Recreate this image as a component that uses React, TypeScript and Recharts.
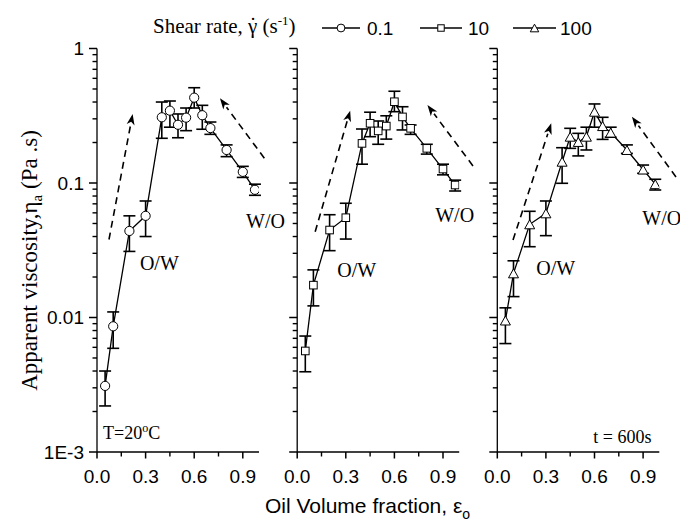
import React from 'react';
import { ComposedChart, Line, XAxis, YAxis, ErrorBar, ReferenceLine, ReferenceDot } from 'recharts';

// ---------- data ----------
const oilFraction = [0.05, 0.1, 0.2, 0.3, 0.4, 0.45, 0.5, 0.55, 0.6, 0.65, 0.7, 0.8, 0.9, 0.975];

const visc01 = [0.0031, 0.0086, 0.044, 0.057, 0.308, 0.345, 0.271, 0.306, 0.431, 0.319, 0.256, 0.176, 0.121, 0.089];
const visc01Low = [0.0022, 0.0059, 0.031, 0.04, 0.215, 0.26, 0.217, 0.245, 0.361, 0.251, 0.23, 0.157, 0.11, 0.081];
const visc01High = [0.004, 0.011, 0.057, 0.0735, 0.4, 0.407, 0.326, 0.361, 0.511, 0.378, 0.284, 0.192, 0.133, 0.098];

const visc10 = [0.00564, 0.0174, 0.0447, 0.0552, 0.197, 0.278, 0.244, 0.265, 0.402, 0.31, 0.255, 0.181, 0.127, 0.0966];
const visc10Low = [0.00395, 0.0122, 0.0314, 0.0383, 0.138, 0.221, 0.194, 0.212, 0.339, 0.248, 0.23, 0.164, 0.115, 0.0872];
const visc10High = [0.00728, 0.0226, 0.0581, 0.0707, 0.252, 0.336, 0.289, 0.316, 0.481, 0.369, 0.27, 0.194, 0.138, 0.105];

const visc100 = [0.0095, 0.0213, 0.0493, 0.0595, 0.144, 0.221, 0.202, 0.221, 0.339, 0.265, 0.237, 0.176, 0.126, 0.098];
const visc100Low = [0.0064, 0.0143, 0.0336, 0.0406, 0.0995, 0.181, 0.159, 0.176, 0.26, 0.211, 0.219, 0.166, 0.118, 0.0887];
const visc100High = [0.0118, 0.0264, 0.0616, 0.0735, 0.183, 0.255, 0.234, 0.26, 0.387, 0.308, 0.26, 0.192, 0.136, 0.1066];

const shearRates = ['0.1', '10', '100'];

const xMajorTicks = [0, 0.3, 0.6, 0.9];
const xMajorLabels = ['0.0', '0.3', '0.6', '0.9'];
const xMinorTicks = [0.15, 0.45, 0.75];
const yMajorTicks = [0.001, 0.01, 0.1, 1];
const yMajorLabels = ['1E-3', '0.01', '0.1', '1'];
const yMinorTicks = [
  0.002, 0.003, 0.004, 0.005, 0.006, 0.007, 0.008, 0.009,
  0.02, 0.03, 0.04, 0.05, 0.06, 0.07, 0.08, 0.09,
  0.2, 0.3, 0.4, 0.5, 0.6, 0.7, 0.8, 0.9,
];

// dashed trend arrows: [startX, startY, tipX, tipY]
const arrows01 = [[0.074, 0.038, 0.22, 0.326], [1.033, 0.153, 0.759, 0.426]];
const arrows10 = [[0.111, 0.0434, 0.327, 0.345], [1.085, 0.134, 0.804, 0.38]];
const arrows100 = [[0.097, 0.0377, 0.333, 0.278], [1.103, 0.111, 0.831, 0.311]];

// text notes: [x, y, text]
const notes01: [number, number, string][] = [[0.265, 0.0226, 'O/W'], [0.92, 0.0463, 'W/O']];
const notes10: [number, number, string][] = [[0.247, 0.02, 'O/W'], [0.852, 0.0513, 'W/O']];
const notes100: [number, number, string][] = [[0.241, 0.0207, 'O/W'], [0.895, 0.0487, 'W/O']];

// ---------- layout ----------
const W = 680;
const H = 522;
const PLOT_TOP = 48.5;
const PLOT_BOTTOM = 452;
const PANEL_LEFT = [97, 297.2, 497.3];
const PANEL_W = 162;
const X_AXIS_H = 30;
const Y_AXIS_W = 60;
const Y_DOMAIN = [0.001, 1];
const SERIF = '"Liberation Serif", "Times New Roman", Times, serif';
const SANS = '"Liberation Sans", Arial, Helvetica, sans-serif';

type Shape = 'circle' | 'square' | 'triangle';

function Marker({ cx, cy, shape, s = 1 }: { cx: number; cy: number; shape: Shape; s?: number }) {
  if (shape === 'circle') {
    return <circle cx={cx} cy={cy} r={4.6 * s} fill="#fff" stroke="#000" strokeWidth={1} />;
  }
  if (shape === 'square') {
    const h = 3.8 * s;
    return <rect x={cx - h} y={cy - h} width={2 * h} height={2 * h} fill="#fff" stroke="#000" strokeWidth={1} />;
  }
  const hw = 5 * s;
  const hh = 4.5 * s;
  return (
    <polygon
      points={`${cx},${cy - hh} ${cx - hw},${cy + hh} ${cx + hw},${cy + hh}`}
      fill="#fff"
      stroke="#000"
      strokeWidth={1}
    />
  );
}

const makeYTick = (showLabel: boolean) => (props: any) => {
  const { x, y, payload } = props;
  const mi = yMajorTicks.findIndex((m) => Math.abs(m - payload.value) < m * 1e-6);
  return (
    <g>
      <path d={`M${x},${y}L${x - 8},${y}`} stroke="#000" strokeWidth={1.5} fill="none" />
      {showLabel && mi >= 0 ? (
        <text x={x - 13} y={y + 6.8} textAnchor="end" fontFamily={SANS} fontSize={19} fill="#000">
          {yMajorLabels[mi]}
        </text>
      ) : null}
    </g>
  );
};

const XTick = (props: any) => {
  const { x, y, payload } = props;
  const i = xMajorTicks.findIndex((t) => Math.abs(t - payload.value) < 1e-9);
  return (
    <g>
      <path d={`M${x},${y}L${x},${y + 6.5}`} stroke="#000" strokeWidth={1.5} fill="none" />
      {i >= 0 ? (
        <text x={x} y={y + 30.7} textAnchor="middle" fontFamily={SANS} fontSize={19} fill="#000">
          {xMajorLabels[i]}
        </text>
      ) : null}
    </g>
  );
};

const DashedArrow = (p: any) => {
  const { x1, y1, x2, y2 } = p;
  const dx = x2 - x1;
  const dy = y2 - y1;
  const len = Math.hypot(dx, dy) || 1;
  const ux = dx / len;
  const uy = dy / len;
  const headL = 11;
  const headW = 4;
  const bx = x2 - ux * headL;
  const by = y2 - uy * headL;
  return (
    <g>
      <line x1={x1} y1={y1} x2={bx} y2={by} stroke="#000" strokeWidth={1.6} strokeDasharray="7 5" />
      <polygon
        points={`${x2},${y2} ${bx - uy * headW},${by + ux * headW} ${bx + 3 * ux},${by + 3 * uy} ${bx + uy * headW},${by - ux * headW}`}
        fill="#000"
      />
    </g>
  );
};

interface PanelProps {
  idx: number;
  values: number[];
  low: number[];
  high: number[];
  shape: Shape;
  arrows: number[][];
  notes: [number, number, string][];
  extraNote?: [number, number, React.ReactNode];
}

function Panel({ idx, values, low, high, shape, arrows, notes, extraNote }: PanelProps) {
  const left = PANEL_LEFT[idx];
  const data = oilFraction.map((x, i) => ({
    x,
    y: values[i],
    err: [values[i] - low[i], high[i] - values[i]],
  }));
  const margin = {
    top: PLOT_TOP,
    bottom: H - PLOT_BOTTOM - X_AXIS_H,
    left: left - Y_AXIS_W,
    right: W - left - PANEL_W,
  };
  const renderDot = (p: any) => <Marker key={`d-${p.index}`} cx={p.cx} cy={p.cy} shape={shape} />;
  return (
    <div style={{ position: 'absolute', left: 0, top: 0 }}>
      <ComposedChart width={W} height={H} data={data} margin={margin}>
        <XAxis
          type="number"
          dataKey="x"
          domain={[0, 1]}
          ticks={xMajorTicks}
          interval={0}
          height={X_AXIS_H}
          tickSize={0}
          tickMargin={0}
          tickLine={false}
          tick={<XTick />}
          axisLine={{ stroke: '#000', strokeWidth: 1.3 }}
          allowDataOverflow
        />
        <YAxis
          type="number"
          scale="log"
          domain={Y_DOMAIN}
          ticks={yMajorTicks}
          interval={0}
          width={Y_AXIS_W}
          tickSize={0}
          tickMargin={0}
          tickLine={false}
          tick={makeYTick(idx === 0)}
          axisLine={{ stroke: '#000', strokeWidth: 1.3 }}
          allowDataOverflow
        />
        {arrows.map((a, i) => (
          <ReferenceLine
            key={`a-${i}`}
            segment={[
              { x: a[0], y: a[1] },
              { x: a[2], y: a[3] },
            ]}
            ifOverflow="visible"
            shape={(p: any) => <DashedArrow {...p} />}
          />
        ))}
        {notes.map((n, i) => (
          <ReferenceDot
            key={`n-${i}`}
            x={n[0]}
            y={n[1]}
            r={0}
            ifOverflow="visible"
            shape={(p: any) => (
              <text x={p.cx} y={p.cy} fontFamily={SERIF} fontSize={20} fill="#000">
                {n[2]}
              </text>
            )}
          />
        ))}
        {extraNote ? (
          <ReferenceDot
            x={extraNote[0]}
            y={extraNote[1]}
            r={0}
            ifOverflow="visible"
            shape={(p: any) => (
              <text x={p.cx} y={p.cy} fontFamily={SERIF} fontSize={18} fill="#000">
                {extraNote[2]}
              </text>
            )}
          />
        ) : null}
        <Line
          type="linear"
          dataKey="y"
          stroke="#000"
          strokeWidth={1.3}
          dot={renderDot}
          activeDot={false}
          isAnimationActive={false}
        >
          <ErrorBar dataKey="err" direction="y" width={6} stroke="#000" strokeWidth={1.6} />
        </Line>
      </ComposedChart>
    </div>
  );
}

// minor tick marks placed on the same log / linear axis mapping as the charts
const yPix = (v: number) => {
  const l0 = Math.log10(Y_DOMAIN[0]);
  const l1 = Math.log10(Y_DOMAIN[1]);
  return PLOT_BOTTOM - ((Math.log10(v) - l0) / (l1 - l0)) * (PLOT_BOTTOM - PLOT_TOP);
};

function Overlay() {
  const legendItems: { x0: number; x1: number; tx: number; shape: Shape }[] = [
    { x0: 322, x1: 360, tx: 367, shape: 'circle' },
    { x0: 420, x1: 462, tx: 468, shape: 'square' },
    { x0: 513, x1: 556, tx: 560, shape: 'triangle' },
  ];
  return (
    <svg width={W} height={H} style={{ position: 'absolute', left: 0, top: 0, pointerEvents: 'none' }}>
      {PANEL_LEFT.map((left, pi) => (
        <g key={`minor-${pi}`}>
          {yMinorTicks.map((v) => (
            <path
              key={`y${v}`}
              d={`M${left},${yPix(v)}L${left - 4.5},${yPix(v)}`}
              stroke="#000"
              strokeWidth={1.4}
              fill="none"
            />
          ))}
          {xMinorTicks.map((v) => (
            <path
              key={`x${v}`}
              d={`M${left + v * PANEL_W},${PLOT_BOTTOM}L${left + v * PANEL_W},${PLOT_BOTTOM + 4.5}`}
              stroke="#000"
              strokeWidth={1.4}
              fill="none"
            />
          ))}
        </g>
      ))}
      <text x={153} y={33} fontFamily={SERIF} fontSize={21} fill="#000">
        {'Shear rate, \u03B3'}
        <tspan dx={-7.8} dy={-1}>
          {'\u02D9'}
        </tspan>
        <tspan dx={0.8} dy={1}>
          {' (s'}
        </tspan>
        <tspan dy={-8} fontSize={13}>
          -1
        </tspan>
        <tspan dy={8}>)</tspan>
      </text>
      {legendItems.map((it, i) => (
        <g key={i}>
          <line x1={it.x0} x2={it.x1} y1={28} y2={28} stroke="#000" strokeWidth={1.3} />
          <Marker cx={(it.x0 + it.x1) / 2} cy={28} shape={it.shape} s={0.85} />
          <text x={it.tx} y={34.5} fontFamily={SANS} fontSize={19} fill="#000">
            {shearRates[i]}
          </text>
        </g>
      ))}
      <text
        transform="translate(37,260.5) rotate(-90)"
        textAnchor="middle"
        fontFamily={SERIF}
        fontSize={23}
        fill="#000"
      >
        {'Apparent viscosity,\u03B7'}
        <tspan dy={5} fontSize={15}>
          a
        </tspan>
        <tspan dy={-5}>{' (Pa .s)'}</tspan>
      </text>
      <text x={265} y={513} fontFamily={SANS} fontSize={21} fill="#000">
        {'Oil Volume fraction, \u03B5'}
        <tspan dy={6} fontSize={14}>
          o
        </tspan>
      </text>
    </svg>
  );
}

export default function App() {
  return (
    <div style={{ position: 'absolute', left: 0, top: 0, width: W, height: H, background: '#fff' }}>
      <Panel
        idx={0}
        values={visc01}
        low={visc01Low}
        high={visc01High}
        shape="circle"
        arrows={arrows01}
        notes={notes01}
        extraNote={[
          0.037,
          0.00125,
          <>
            T=20
            <tspan dy={-7} fontSize={12}>
              o
            </tspan>
            <tspan dy={7}>C</tspan>
          </>,
        ]}
      />
      <Panel idx={1} values={visc10} low={visc10Low} high={visc10High} shape="square" arrows={arrows10} notes={notes10} />
      <Panel
        idx={2}
        values={visc100}
        low={visc100Low}
        high={visc100High}
        shape="triangle"
        arrows={arrows100}
        notes={notes100}
        extraNote={[0.593, 0.00117, 't = 600s']}
      />
      <Overlay />
    </div>
  );
}
